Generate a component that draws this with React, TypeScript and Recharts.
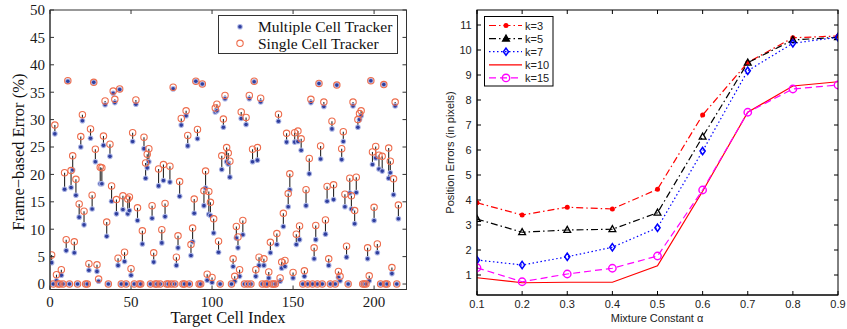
import React from 'react';
import { ScatterChart, Scatter, XAxis, YAxis, ErrorBar, Legend, LineChart, Line } from 'recharts';

// ---------- Left panel data ----------
const cellIndex = [1,3,4,7,9,10,11,13,14,15,16,18,19,20,21,24,25,26,27,28,29,30,31,32,33,34,35,37,38,39,40,41,42,43,45,46,48,49,50,51,53,54,57,58,59,60,61,63,64,67,69,70,71,74,76,78,79,80,81,84,85,87,88,89,90,91,94,95,96,97,98,99,100,101,102,103,104,106,107,108,109,110,111,113,114,115,116,117,118,119,121,123,125,126,127,128,129,130,132,135,136,140,141,142,143,144,145,146,147,148,150,151,152,153,154,155,157,158,160,161,163,164,166,167,169,170,171,172,174,175,177,178,179,180,181,182,183,185,186,187,188,189,190,191,192,196,197,198,199,200,201,202,203,205,206,209,210,211,212,213,215];
const multiErr = [3.9,27.4,0.6,1.6,17.3,6.1,37.0,17.6,20.8,5.7,16.2,12.2,25.0,29.8,10.8,2.5,26.6,13.7,36.8,22.3,2.3,0.5,18.3,18.3,25.3,32.7,8.7,23.3,15.1,34.8,33.1,12.8,3.4,35.5,13.6,4.1,12.8,13.4,1.6,26.0,32.8,11.6,7.3,24.7,19.3,21.2,22.3,12.0,4.0,17.9,7.5,18.9,12.3,18.6,35.6,3.4,6.6,16.0,29.0,30.7,25.2,5.2,7.7,12.9,37.0,26.5,36.5,14.3,17.5,0.7,12.7,12.5,0.3,9.3,31.4,31.6,5.8,20.9,28.6,33.8,22.3,21.9,19.5,3.2,0.5,8.4,6.6,1.4,30.2,9.0,29.1,33.8,22.3,36.9,1.4,22.6,3.4,33.2,3.4,1.1,5.7,7.2,29.7,0.5,2.9,10.5,3.2,25.9,14.1,17.2,1.1,25.9,7.2,26.0,8.1,24.4,1.4,14.3,20.1,33.1,4.6,8.1,36.6,22.8,32.4,9.1,15.1,3.4,28.3,15.4,36.3,1.2,0.6,22.7,26.0,14.1,4.9,16.6,13.7,32.5,11.0,16.7,28.6,30.0,30.7,4.6,0.6,37.1,21.8,11.6,23.0,5.7,21.0,20.6,36.4,19.3,20.3,1.9,16.3,32.5,11.9];
const singleErr = [5.3,29.0,1.7,2.6,20.3,8.1,37.1,20.7,23.4,7.7,19.1,14.6,26.9,30.9,13.3,3.7,28.3,16.2,36.8,24.6,3.5,0.9,21.3,21.2,27.0,33.4,11.3,25.5,17.9,35.2,33.7,15.4,4.7,35.6,16.1,5.8,15.5,15.9,2.8,27.6,33.6,13.9,9.7,26.8,22.1,23.7,24.7,14.3,5.7,21.0,9.9,21.8,14.7,21.5,35.9,4.9,8.8,18.7,30.2,31.6,27.1,7.2,10.2,15.5,37.0,28.2,36.5,17.0,20.6,1.8,16.9,14.9,1.2,11.9,32.1,32.8,7.8,23.4,30.1,34.4,24.9,23.9,22.4,4.6,1.4,10.5,8.6,2.6,31.4,11.6,30.4,34.4,24.6,37.0,2.6,24.9,4.9,33.9,4.6,2.2,7.6,9.2,31.0,1.1,4.0,12.9,4.3,27.5,16.5,20.1,2.1,27.6,9.1,27.9,10.6,26.5,2.4,17.2,22.9,33.7,6.6,10.7,36.6,25.2,33.2,11.7,17.8,4.6,29.7,18.1,36.3,2.3,1.4,24.7,27.8,16.4,6.9,19.3,16.1,33.2,13.4,19.5,30.0,31.1,31.6,6.6,1.5,37.1,24.1,14.0,25.1,7.3,23.5,23.3,36.4,24.8,22.4,3.0,19.2,33.2,14.4];
const zeroCellIndex = [2,5,6,8,12,17,22,23,36,44,47,52,55,56,62,65,66,68,72,73,75,77,82,83,86,92,93,105,112,120,122,124,131,133,134,137,138,139,156,159,162,165,168,173,176,184,193,194,195,204,207,208,214];
const leftXTicks = [0, 50, 100, 150, 200];
const leftYTicks = [0, 5, 10, 15, 20, 25, 30, 35, 40, 45, 50];
const leftXDomain = [0, 220];
const leftYDomain = [-1, 50];

// ---------- Right panel data ----------
const alphas = [0.1, 0.2, 0.3, 0.4, 0.5, 0.6, 0.7, 0.8, 0.9];
const errK3 = [3.89, 3.40, 3.71, 3.64, 4.43, 7.40, 9.50, 10.49, 10.56];
const errK5 = [3.24, 2.71, 2.80, 2.83, 3.49, 6.53, 9.49, 10.40, 10.51];
const errK7 = [1.60, 1.40, 1.73, 2.11, 2.89, 5.96, 9.17, 10.27, 10.51];
const errK10 = [0.89, 0.69, 0.71, 0.71, 1.37, 4.35, 7.51, 8.56, 8.73];
const errK15 = [1.29, 0.73, 1.04, 1.27, 1.76, 4.40, 7.51, 8.44, 8.60];
const rightYTicks = [1, 2, 3, 4, 5, 6, 7, 8, 9, 10, 11];
const rightXDomain = [0.1, 0.9];
const rightYDomain = [0.2, 11.6];

const SERIF = '"Liberation Serif", "Times New Roman", serif';
const SANS = '"Liberation Sans", Arial, Helvetica, sans-serif';

// chart geometry
const CH = 329;
const LEFT_W = 420, LEFT_M = { top: 10, right: 13.5, bottom: 9.5, left: 0 }, LEFT_YW = 50, LEFT_XH = 30;
const RIGHT_W = 427, RIGHT_M = { top: 10, right: 9, bottom: 4, left: 0 }, RIGHT_YW = 57, RIGHT_XH = 30;
const leftBox = { x0: LEFT_YW, x1: LEFT_W - LEFT_M.right, y0: LEFT_M.top, y1: CH - LEFT_M.bottom - LEFT_XH };
const rightBox = { x0: RIGHT_YW, x1: RIGHT_W - RIGHT_M.right, y0: RIGHT_M.top, y1: CH - RIGHT_M.bottom - RIGHT_XH };

const multiPts = [
  ...cellIndex.map((x, i) => ({ x, y: multiErr[i], stem: [0, +(singleErr[i] - multiErr[i]).toFixed(2)] })),
  ...zeroCellIndex.map((x) => ({ x, y: 0, stem: [0, 0] })),
];
const singlePts = [
  ...cellIndex.map((x, i) => ({ x, y: singleErr[i] })),
  ...zeroCellIndex.map((x) => ({ x, y: 0 })),
];

const rightTable = alphas.map((a, i) => ({
  alpha: a, k3: errK3[i], k5: errK5[i], k7: errK7[i], k10: errK10[i], k15: errK15[i],
}));

// ---------- markers ----------
const BlueDot = (p: any) => (
  <g>
    <circle cx={p.cx} cy={p.cy} r={2.8} fill="#aab3e4" />
    <circle cx={p.cx} cy={p.cy} r={1.8} fill="#2f3f9e" />
  </g>
);
const OrangeRing = (p: any) => (
  <circle cx={p.cx} cy={p.cy} r={3.2} fill="none" stroke="#ee6d4d" strokeWidth={1.1} />
);

const redDot = (cx: number, cy: number, k?: any) => <circle key={k} cx={cx} cy={cy} r={2.5} fill="#ff0000" />;
const triangle = (cx: number, cy: number, k?: any, fill = 'none') => (
  <path key={k} d={`M${cx},${cy - 3.6}L${cx + 3.4},${cy + 2.4}L${cx - 3.4},${cy + 2.4}Z`} fill={fill} stroke="#000" strokeWidth={1.3} />
);
const diamond = (cx: number, cy: number, k?: any) => (
  <path key={k} d={`M${cx},${cy - 3.6}L${cx + 2.6},${cy}L${cx},${cy + 3.6}L${cx - 2.6},${cy}Z`} fill="none" stroke="#0000ff" strokeWidth={1.5} />
);
const ring = (cx: number, cy: number, k?: any) => (
  <circle key={k} cx={cx} cy={cy} r={3.7} fill="none" stroke="#ff00ff" strokeWidth={1.4} />
);

const series = [
  { key: 'k3', name: 'k=3', color: '#ff0000', dash: '7 3 1.5 3', marker: redDot },
  { key: 'k5', name: 'k=5', color: '#000000', dash: '7 3 1.5 3', marker: (x: number, y: number, k?: any) => triangle(x, y, k, 'none') },
  { key: 'k7', name: 'k=7', color: '#0000ff', dash: '1.5 2.5', marker: diamond },
  { key: 'k10', name: 'k=10', color: '#ff0000', dash: undefined, marker: null },
  { key: 'k15', name: 'k=15', color: '#ff00ff', dash: '7 4', marker: ring },
];

// Box frame (full rectangle with inward ticks on top and right), as an overlay svg
const FrameOverlay = ({ box, xTicks, yTicks, xDom, yDom, color, w }: any) => {
  const sx = (v: number) => box.x0 + ((v - xDom[0]) / (xDom[1] - xDom[0])) * (box.x1 - box.x0);
  const sy = (v: number) => box.y1 - ((v - yDom[0]) / (yDom[1] - yDom[0])) * (box.y1 - box.y0);
  return (
    <svg width={w} height={CH} style={{ position: 'absolute', left: 0, top: 0, zIndex: 5, pointerEvents: 'none', overflow: 'visible' }}>
      <rect x={box.x0} y={box.y0} width={box.x1 - box.x0} height={box.y1 - box.y0} fill="none" stroke={color} strokeWidth={1} />
      {xTicks.map((t: number) => <line key={`tx${t}`} x1={sx(t)} x2={sx(t)} y1={box.y0} y2={box.y0 + 4} stroke={color} strokeWidth={1} />)}
      {yTicks.map((t: number) => <line key={`ty${t}`} x1={box.x1} x2={box.x1 - 4} y1={sy(t)} y2={sy(t)} stroke={color} strokeWidth={1} />)}
    </svg>
  );
};

// ---------- titles ----------
const LeftXTitle = () => (
  <text x={228} y={323} textAnchor="middle" fontFamily={SERIF} fontSize={16.5} fill="#111">Target Cell Index</text>
);
const LeftYTitle = () => (
  <text x={24} y={152} transform="rotate(-90 24 152)" textAnchor="middle" fontFamily={SERIF} fontSize={16.5} fill="#111">Frame−based Error (%)</text>
);
const RightXTitle = () => (
  <text x={237} y={322} textAnchor="middle" fontFamily={SANS} fontSize={11} fill="#222">Mixture Constant α</text>
);
const RightYTitle = () => (
  <text x={34} y={152.5} transform="rotate(-90 34 152.5)" textAnchor="middle" fontFamily={SANS} fontSize={11} fill="#222">Position Errors (in pixels)</text>
);

const LeftLegendBox = () => (
  <svg width={181} height={40} style={{ display: 'block' }}>
    <rect x={0.5} y={0.5} width={179} height={38} fill="#fff" stroke="#333" strokeWidth={1} />
    <circle cx={22} cy={11.7} r={2.8} fill="#aab3e4" />
    <circle cx={22} cy={11.7} r={1.8} fill="#2f3f9e" />
    <text x={40} y={16.5} fontFamily={SERIF} fontSize={15.5} fill="#111">Multiple Cell Tracker</text>
    <circle cx={22} cy={28.3} r={3.2} fill="none" stroke="#ee6d4d" strokeWidth={1.1} />
    <text x={40} y={33.5} fontFamily={SERIF} fontSize={15.5} fill="#111">Single Cell Tracker</text>
  </svg>
);

const RightLegendBox = () => (
  <svg width={70} height={71} style={{ display: 'block' }}>
    <rect x={0.5} y={0.5} width={68.5} height={69.5} fill="#fff" stroke="#000" strokeWidth={1} />
    {series.map((s, i) => {
      const y = 9.5 + 13.1 * i;
      return (
        <g key={s.key}>
          <line x1={5} y1={y} x2={38} y2={y} stroke={s.color} strokeWidth={1.2} strokeDasharray={s.dash} />
          {s.key === 'k5' ? triangle(22, y, undefined, '#000') : s.marker ? s.marker(22, y) : null}
          <text x={41} y={y + 4} fontFamily={SANS} fontSize={11} fill="#222">{s.name}</text>
        </g>
      );
    })}
  </svg>
);

const leftTick = { fill: '#1a1a1a', fontSize: 15, fontFamily: SERIF };
const rightTick = { fill: '#222', fontSize: 11, fontFamily: SANS };

export default function App() {
  return (
    <div style={{ position: 'absolute', left: 0, top: 0, width: 847, height: CH, background: '#fff' }}>
      <div style={{ position: 'absolute', left: 0, top: 0, width: LEFT_W, height: CH }}>
        <ScatterChart width={LEFT_W} height={CH} margin={LEFT_M}>
          <XAxis type="number" dataKey="x" domain={leftXDomain} ticks={leftXTicks} interval={0} allowDataOverflow
            height={LEFT_XH} tickSize={-4} tickMargin={10.5} stroke="#333" tick={leftTick} label={<LeftXTitle />} />
          <YAxis type="number" dataKey="y" domain={leftYDomain} ticks={leftYTicks} interval={0} allowDataOverflow
            width={LEFT_YW} tickSize={-4} tickMargin={9} stroke="#333" tick={leftTick} label={<LeftYTitle />} />
          <Scatter name="Multiple Cell Tracker" data={multiPts} shape={BlueDot} isAnimationActive={false}>
            <ErrorBar dataKey="stem" direction="y" width={0} stroke="#262626" strokeWidth={1.1} isAnimationActive={false} />
          </Scatter>
          <Scatter name="Single Cell Tracker" data={singlePts} shape={OrangeRing} isAnimationActive={false} />
          <Legend layout="vertical" align="center" verticalAlign="middle"
            wrapperStyle={{ left: 218, top: 15, width: 181, height: 40, margin: 0, padding: 0 }}
            content={() => <LeftLegendBox />} />
        </ScatterChart>
        <FrameOverlay box={leftBox} xTicks={leftXTicks} yTicks={leftYTicks} xDom={leftXDomain} yDom={leftYDomain} color="#333" w={LEFT_W} />
      </div>
      <div style={{ position: 'absolute', left: 420, top: 0, width: RIGHT_W, height: CH }}>
        <LineChart width={RIGHT_W} height={CH} data={rightTable} margin={RIGHT_M}>
          <XAxis type="number" dataKey="alpha" domain={rightXDomain} ticks={alphas} interval={0} allowDataOverflow
            height={RIGHT_XH} tickSize={-4} tickMargin={9.5} stroke="#000" tick={rightTick} label={<RightXTitle />} />
          <YAxis type="number" domain={rightYDomain} ticks={rightYTicks} interval={0} allowDataOverflow
            width={RIGHT_YW} tickSize={-4} tickMargin={9.3} stroke="#000" tick={rightTick} label={<RightYTitle />} />
          {series.map((s) => (
            <Line key={s.key} type="linear" dataKey={s.key} name={s.name} stroke={s.color} strokeWidth={1.2}
              strokeDasharray={s.dash} isAnimationActive={false} activeDot={false}
              dot={s.marker ? (p: any) => s.marker!(p.cx, p.cy, `${s.key}-${p.index}`) : false} />
          ))}
          <Legend layout="vertical" align="center" verticalAlign="middle"
            wrapperStyle={{ left: 64, top: 15.5, width: 70, height: 71, margin: 0, padding: 0 }}
            content={() => <RightLegendBox />} />
        </LineChart>
        <FrameOverlay box={rightBox} xTicks={alphas} yTicks={rightYTicks} xDom={rightXDomain} yDom={rightYDomain} color="#000" w={RIGHT_W} />
      </div>
    </div>
  );
}
